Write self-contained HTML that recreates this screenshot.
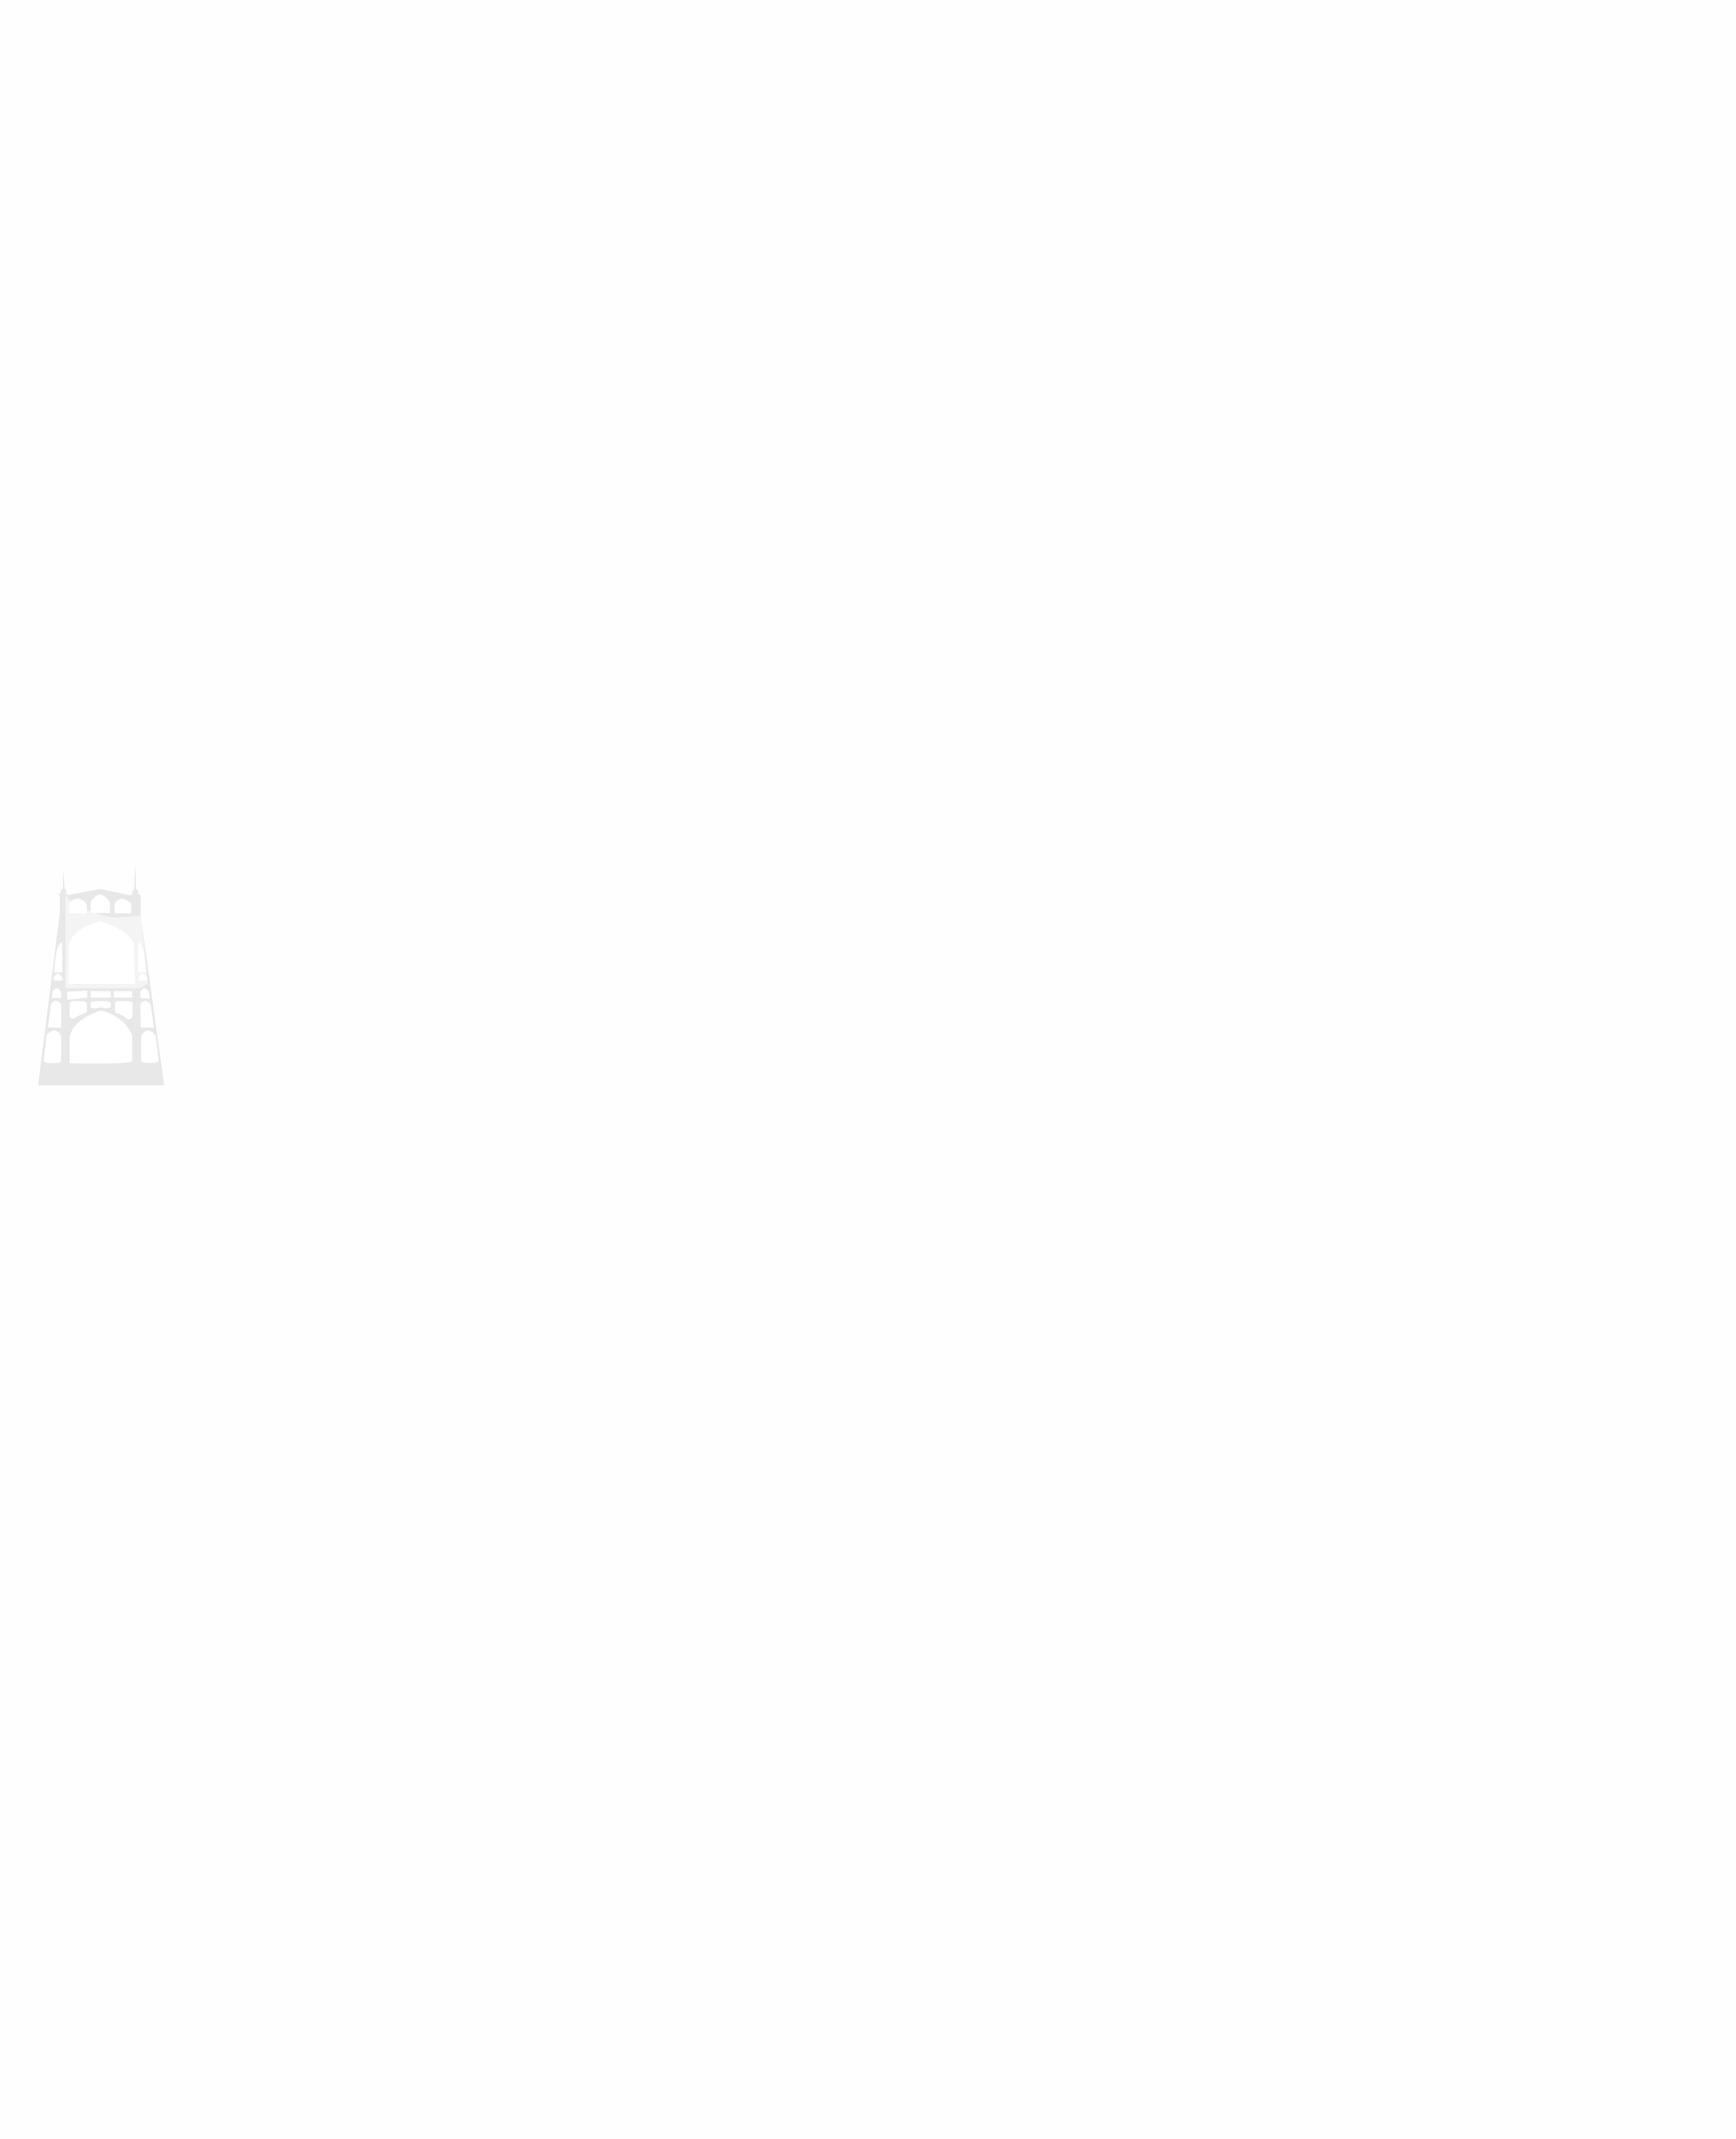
<!DOCTYPE html>
<html><head><meta charset="utf-8"><style>
html,body{margin:0;padding:0;background:#fefefe;width:4059px;height:5277px;overflow:hidden;}
body{position:relative;}
svg{position:absolute;left:0;top:0;display:block;vertical-align:top;}
</style></head><body>
<svg width="4059" height="5277" viewBox="0 0 4059 5277" xmlns="http://www.w3.org/2000/svg">
<rect width="4059" height="5277" fill="#fefefe"/>
<path fill="#e8e8e8" d="M89,2537 L140,2133 L140,2094 L137,2090 L144,2086 L141,2084 L147,2076 L148,2030 L151,2076 L156,2084 L153,2088 L160,2092 L235,2078 L305,2093 L311,2088 L308,2085 L314,2077 L316,2013 L318,2077 L324,2085 L321,2088 L329,2093 L329,2140 L384,2537 Z"/>
<path fill="#f4f4f4" d="M153,2090 L163,2105 L205,2128 L240,2140 L270,2145 L330,2140 L345,2300 L327,2310 L153,2310 Z"/>
<path fill="#ffffff" d="M161,2210 Q170,2170 235,2153 Q300,2175 313,2205 L316,2300 L160,2300 Z"/>
<g fill="#ffffff">
<path d="M162,2135 L162,2110 Q170,2102 182,2100 Q198,2104 203,2114 L203,2135 Z"/>
<path d="M212,2134 L212,2108 Q220,2095 234,2090 Q250,2096 257,2110 L257,2134 Z"/>
<path d="M268,2135 L268,2112 Q275,2102 286,2100 Q298,2104 307,2112 L307,2135 Z"/>
<path d="M127,2273 Q130,2205 145,2203 L146,2273 Z"/>
<path d="M323,2203 Q337,2205 342,2273 L323,2273 Z"/>
<path d="M124,2292 Q127,2278 135,2275 Q146,2280 147,2292 Z"/>
<path d="M322,2292 Q324,2280 334,2275 Q345,2280 345,2292 Z"/>
<path d="M157,2318 L204,2316 L204,2332 L157,2337 Z"/>
<rect x="212" y="2317" width="47" height="15"/>
<rect x="266" y="2317" width="43" height="15"/>
<path d="M121,2333 L123,2318 Q128,2311 133,2310 Q141,2313 143,2320 L143,2333 Z"/>
<path d="M328,2333 L328,2318 Q333,2311 338,2310 Q346,2313 348,2320 L350,2335 Z"/>
<path d="M163,2343 Q165,2340 183,2340 Q201,2340 203,2344 L203,2366 Q186,2372 171,2382 Q164,2380 163,2377 Z"/>
<path d="M212,2343 Q214,2340 235,2340 Q257,2340 259,2344 L259,2354 Q253,2358 242,2356 L236,2354 Q226,2358 216,2357 Q212,2356 212,2354 Z"/>
<path d="M269,2343 Q272,2340 290,2340 Q309,2340 310,2344 L310,2377 Q306,2382 300,2383 Q285,2372 269,2366 Z"/>
<path d="M112,2402 L119,2348 Q123,2341 131,2339 Q139,2342 143,2347 L143,2402 Z"/>
<path d="M328,2347 Q332,2341 340,2339 Q349,2343 352,2348 L360,2402 L329,2402 Z"/>
<path d="M163,2485 L163,2424 Q170,2385 235,2362 Q290,2375 309,2420 L309,2480 Q305,2486 236,2486 Q167,2486 163,2485 Z"/>
<path d="M102,2480 L109,2420 Q114,2412 126,2408 Q138,2411 143,2422 L143,2480 Q140,2485 122,2485 Q105,2485 102,2480 Z"/>
<path d="M330,2422 Q334,2413 345,2408 Q358,2411 364,2422 L371,2480 Q367,2485 350,2485 Q333,2485 330,2480 Z"/>
</g>
</svg>
</body></html>
